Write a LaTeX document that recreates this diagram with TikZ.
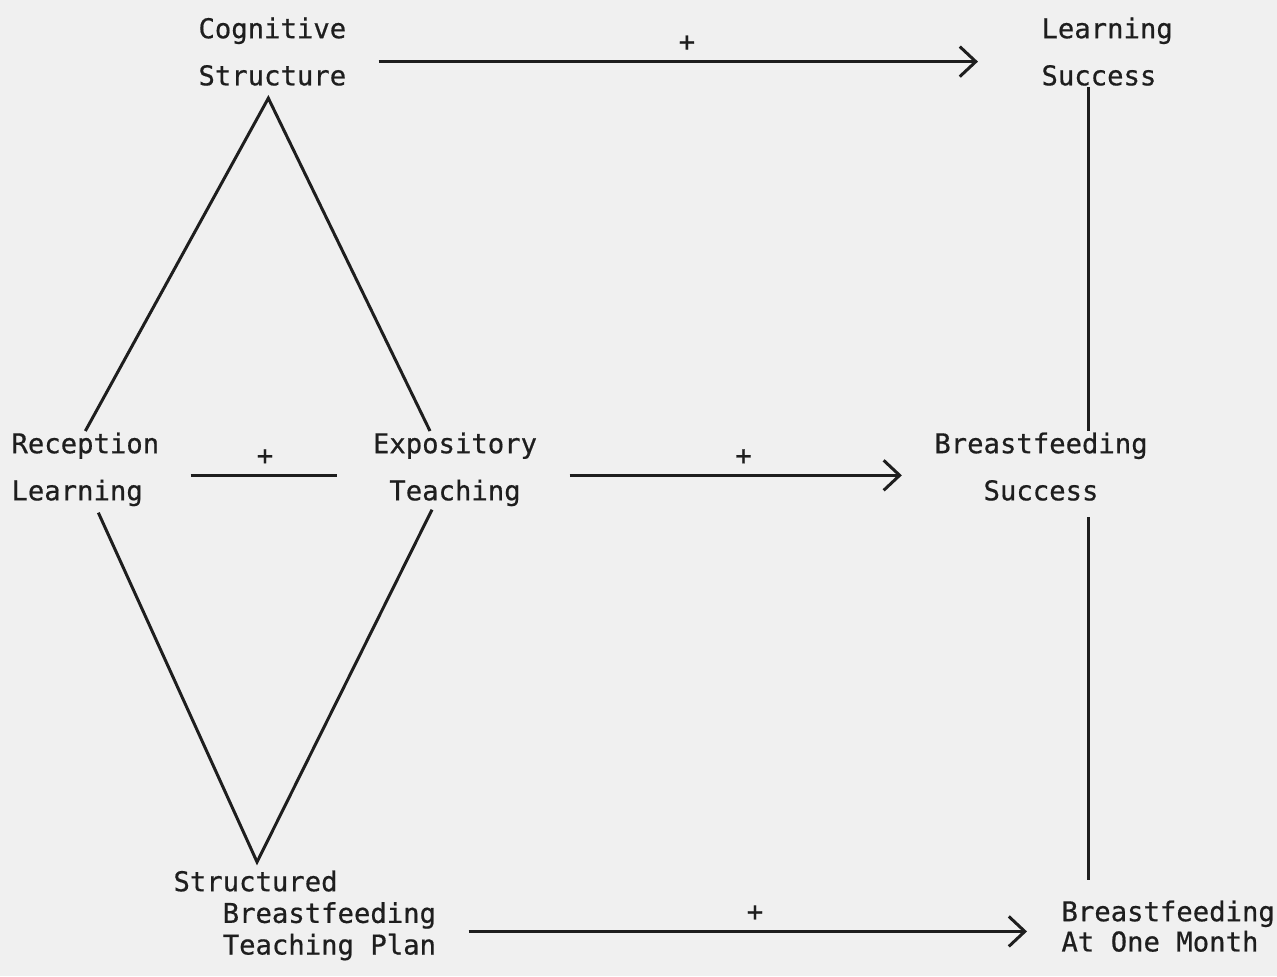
\documentclass[tikz,border=0pt]{standalone}
\usepackage{fontspec}
\setmonofont[FakeBold=0.6]{DejaVu Sans Mono}
\usetikzlibrary{arrows.meta}
\definecolor{paper}{RGB}{240,240,240}
\definecolor{ink}{RGB}{30,30,30}
\tikzset{
    lbl/.style={font=\ttfamily\fontsize{7.75}{13.4}\selectfont, text=ink, inner sep=0pt},
    tight/.style={font=\ttfamily\fontsize{7.75}{8.6}\selectfont},
    arr/.style={-{Straight Barb[length=1.6mm,width=3mm]}},
    plus/.style={above=0.9mm, inner sep=0pt, text=ink,
        font=\ttfamily\fontsize{7.75}{8}\selectfont}
}

\begin{document}
\begin{tikzpicture}[x=0.01cm,y=-0.01cm,line width=0.85pt,color=ink]
        \fill[paper] (0,0) rectangle (1277,976);
        \useasboundingbox (0,0) rectangle (1277,976);
        % concepts
        \node[lbl,align=left,anchor=north west] (cog) at (197,16) {Cognitive\\Structure};
        \node[lbl,align=left,anchor=north west] (learn) at (1040,16) {Learning\\Success};
        \node[lbl,align=left,anchor=north west] (rec) at (10,431) {Reception\\Learning};
        \node[lbl,align=center,anchor=north] (expo) at (455,431) {Expository\\Teaching};
        \node[lbl,align=center,anchor=north] (bfs) at (1041,431) {Breastfeeding\\Success};
        \node[lbl,tight,align=left,anchor=north west,font=\ttfamily\fontsize{7.75}{9}\selectfont] (plan) at (172,869)
            {Structured\\\phantom{Str}Breastfeeding\\\phantom{Str}Teaching Plan};
        \node[lbl,tight,align=left,anchor=north west] (month) at (1060,899) {Breastfeeding\\At One Month};
        % diamond
        \draw (rec.north) -- ([xshift=-0.4mm,yshift=-1.1mm]cog.south) -- ([xshift=-2.5mm]expo.north);
        \draw ([xshift=1.3mm,yshift=-0.5mm]rec.south) -- ([xshift=8.5mm,yshift=0.7mm]plan.north west)
            -- ([xshift=-2.3mm,yshift=-0.2mm]expo.south);
        % links
        \draw[arr,shorten <=3.1mm,shorten >=6.2mm] ([yshift=-1mm]cog.east) -- ([yshift=-1mm]cog.east -| learn.west)
            node[plus,pos=0.49] (p1) {+};
        \draw[shorten <=3mm,shorten >=3.4mm] ([yshift=-0.6mm]rec.east) -- ([yshift=-0.6mm]rec.east -| expo.west)
            node[plus,pos=0.495] (p2) {+};
        \draw[arr,shorten <=3.1mm,shorten >=3.1mm] ([yshift=-0.6mm]expo.east) -- ([yshift=-0.6mm]expo.east -| bfs.west)
            node[plus,pos=0.52] (p3) {+};
        \draw[arr,shorten <=3.1mm,shorten >=3.3mm] ([yshift=-1.6mm]plan.east) -- ([yshift=-1.6mm]plan.east -| month.west)
            node[plus,pos=0.51] (p4) {+};
        \coordinate (vx) at (1088,0);
        \draw (vx |- learn.south) -- (vx |- bfs.north);
        \draw[shorten <=1.5mm,shorten >=1.9mm] (vx |- bfs.south) -- (vx |- month.north);
    \end{tikzpicture}
\end{document}
